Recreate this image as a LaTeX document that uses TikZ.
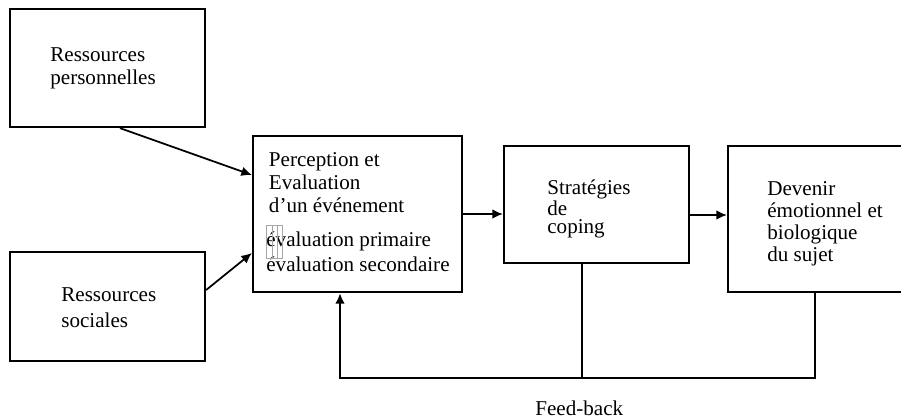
\documentclass[tikz,border=0pt]{standalone}
\usepackage{fontspec}
\setmainfont{Liberation Serif}
\usetikzlibrary{calc,arrows.meta}

\begin{document}
\begin{tikzpicture}[x=0.02cm, y=-0.02cm,
    box/.style={rectangle, draw, line width=1.3pt, inner sep=0},
    txt/.style={anchor=north west, inner sep=0, align=left, font=\fontsize{12}{13}\selectfont},
    arr/.style={-{Latex[length=6pt,width=5.5pt]}, line width=1pt},
    fbline/.style={line width=1.2pt}]

\clip (0,0) rectangle (901,419);

\node [box, minimum width=3.9cm, minimum height=2.36cm] (pers_box) at (107.5,68) {};
\node [txt] (pers_txt) at (50,47.5) {Ressources\\personnelles};

\node [box, minimum width=3.9cm, minimum height=2.18cm] (soc_box) at (107.5,306.5) {};
\node [txt, font=\fontsize{12}{14.5}\selectfont] (soc_txt) at (61,287.5) {Ressources\\sociales};

\node [box, minimum width=4.18cm, minimum height=3.12cm] (perc_box) at (357.5,214) {};
\node [txt] (perc_txt) at (266,152.5) {\hspace{1.5pt}Perception et\\\hspace{1.5pt}Evaluation\\\hspace{1.5pt}d'un événement\\[6.5pt]évaluation primaire\\[1pt]évaluation secondaire};
% missing glyph box
\draw [gray!70, line width=0.4pt] (266,225) rectangle (282,258) (272,225) -- (272,258) (277,225) -- (277,258);

\node [box, minimum width=3.7cm, minimum height=2.34cm] (cop_box) at (596.5,204.5) {};
\node [txt, font=\fontsize{12}{10.5}\selectfont] (cop_txt) at (547,179.5) {Stratégies\\de\\coping};

\node [box, minimum width=3.54cm, minimum height=2.92cm] (dev_box) at (816.5,219) {};
\node [txt, font=\fontsize{12}{12.5}\selectfont] (dev_txt) at (767,181.5) {Devenir\\émotionnel et\\biologique\\du sujet};

\node [txt] (fb_txt) at (535,400.5) {Feed-back};

%%%%%%%%%%%%%%%%%%%%%%%%%%%%%%%%%%%%%%%%%%%%%%%%%%%%%%%%%%%%%%%%%%%%%%%%%%%%%%%%

\draw [arr] ($(pers_box.south) + (12.5,0)$) -- ($(perc_box.west) + (0,-39)$);
\draw [arr] ($(soc_box.east) + (0,-16.5)$) -- ($(perc_box.west) + (0,39)$);
\draw [arr] (perc_box.east) -- (perc_box.east -| cop_box.west);
\coordinate (cop_out) at ($(cop_box.east) + (0,10.5)$);
\draw [arr] (cop_out) -- (cop_out -| dev_box.west);

\coordinate (fb_left) at (340,378);
\coordinate (fb_cop) at ($(cop_box.south) + (-14.5,0)$);
\draw [fbline] (fb_cop) -- (fb_cop |- fb_left);
\draw [fbline, -{Latex[length=6pt,width=5.5pt]}] ($(dev_box.south) + (-1.5,0)$) |- (fb_left) -- (fb_left |- perc_box.south);

\end{tikzpicture}
\end{document}
